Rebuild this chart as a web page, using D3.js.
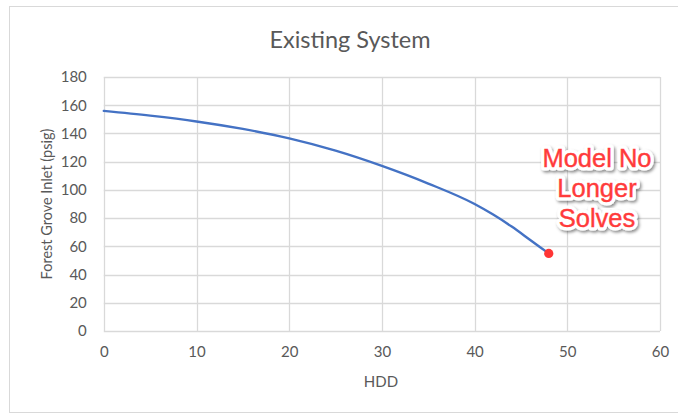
<!DOCTYPE html>
<html>
<head>
<meta charset="utf-8">
<script src="https://cdn.jsdelivr.net/npm/d3@7"></script>
<style>
  html, body { margin: 0; padding: 0; background: #fff; }
  svg { display: block; }
</style>
</head>
<body>
<svg id="chart" width="678" height="414"></svg>
<script>
// Inlet pressure at Forest Grove versus heating degree days
const hdd  = [0, 5, 10, 15, 20, 25, 30, 35, 40, 42, 44, 46, 48];
const psig = [156, 152.6, 148.5, 143.2, 136.5, 127.8, 117, 104.5, 90, 82.5, 74, 64.5, 55];
const xTicks = [0, 10, 20, 30, 40, 50, 60];
const yTicks = [0, 20, 40, 60, 80, 100, 120, 140, 160, 180];
const noteLines = ["Model No", "Longer", "Solves"];

const svg = d3.select("#chart");
const font = "Lato, 'Open Sans', sans-serif";
const grey = "#595959";
const gridColor = "#d9d9d9";

const plot = { left: 103.8, right: 660, top: 77, bottom: 331 };
const x = d3.scaleLinear().domain([0, 60]).range([plot.left, plot.right]);
const y = d3.scaleLinear().domain([0, 180]).range([plot.bottom, plot.top]);

// chart frame
svg.append("rect")
  .attr("x", 9.5).attr("y", 6.5)
  .attr("width", 720).attr("height", 406)
  .attr("fill", "#fff").attr("stroke", gridColor).attr("stroke-width", 1);

// title
svg.append("text")
  .attr("x", 350).attr("y", 48)
  .attr("text-anchor", "middle")
  .attr("font-family", font).attr("font-size", 23.5)
  .attr("fill", grey)
  .text("Existing System");

// gridlines
const grid = svg.append("g");
grid.selectAll("line.h").data(yTicks).join("line")
  .attr("class", "h")
  .attr("x1", plot.left).attr("x2", plot.right)
  .attr("y1", d => Math.round(y(d)) + 0.5).attr("y2", d => Math.round(y(d)) + 0.5)
  .attr("stroke", gridColor).attr("stroke-width", 1.3);
grid.selectAll("line.v").data(xTicks).join("line")
  .attr("class", "v")
  .attr("y1", plot.top).attr("y2", plot.bottom)
  .attr("x1", d => Math.round(x(d)) + 0.5).attr("x2", d => Math.round(x(d)) + 0.5)
  .attr("stroke", gridColor).attr("stroke-width", 1.3);

// axes (labels only, lines come from the grid)
const yAxis = svg.append("g")
  .attr("transform", `translate(${plot.left},0)`)
  .call(d3.axisLeft(y).tickValues(yTicks).tickSize(0).tickPadding(17));
const xAxis = svg.append("g")
  .attr("transform", `translate(0,${plot.bottom})`)
  .call(d3.axisBottom(x).tickValues(xTicks).tickSize(0).tickPadding(15));
[yAxis, xAxis].forEach(a => {
  a.select(".domain").remove();
  a.selectAll("text")
    .attr("font-family", font).attr("font-size", 15)
    .attr("fill", grey);
});

// axis titles
svg.append("text")
  .attr("x", 381).attr("y", 387)
  .attr("text-anchor", "middle")
  .attr("font-family", font).attr("font-size", 15)
  .attr("fill", grey)
  .text("HDD");
svg.append("text")
  .attr("transform", `translate(52,${(plot.top + plot.bottom) / 2}) rotate(-90)`)
  .attr("text-anchor", "middle")
  .attr("font-family", font).attr("font-size", 14.5)
  .attr("fill", grey)
  .text("Forest Grove Inlet (psig)");

// pressure curve
const pts = hdd.map((h, i) => [h, psig[i]]);
svg.append("path")
  .datum(pts)
  .attr("fill", "none")
  .attr("stroke", "#4472c4")
  .attr("stroke-width", 2.4)
  .attr("stroke-linecap", "round")
  .attr("d", d3.line().x(d => x(d[0])).y(d => y(d[1])).curve(d3.curveMonotoneX));

// last solvable point
const last = pts[pts.length - 1];
svg.append("circle")
  .attr("cx", x(last[0])).attr("cy", y(last[1]))
  .attr("r", 4.6)
  .attr("fill", "#ff3535");

// annotation
const defs = svg.append("defs");
const f = defs.append("filter").attr("id", "noteShadow")
  .attr("x", "-20%").attr("y", "-20%").attr("width", "140%").attr("height", "140%");
f.append("feDropShadow")
  .attr("dx", 1.5).attr("dy", 2).attr("stdDeviation", 1.8)
  .attr("flood-color", "#000").attr("flood-opacity", 0.45);

const note = svg.append("g")
  .attr("font-family", "'Liberation Sans', Arial, sans-serif")
  .attr("font-size", 25.5)
  .attr("text-anchor", "middle");
note.selectAll("text.halo").data(noteLines).join("text")
  .attr("class", "halo")
  .attr("x", 597).attr("y", (d, i) => 166.5 + i * 30)
  .attr("fill", "#fff").attr("stroke", "#fff")
  .attr("stroke-width", 7).attr("stroke-linejoin", "round")
  .attr("filter", "url(#noteShadow)")
  .text(d => d);
note.selectAll("text.fg").data(noteLines).join("text")
  .attr("class", "fg")
  .attr("x", 597).attr("y", (d, i) => 166.5 + i * 30)
  .attr("fill", "#ff3b3b")
  .attr("stroke", "#ff3b3b").attr("stroke-width", 0.4)
  .text(d => d);
</script>
</body>
</html>
